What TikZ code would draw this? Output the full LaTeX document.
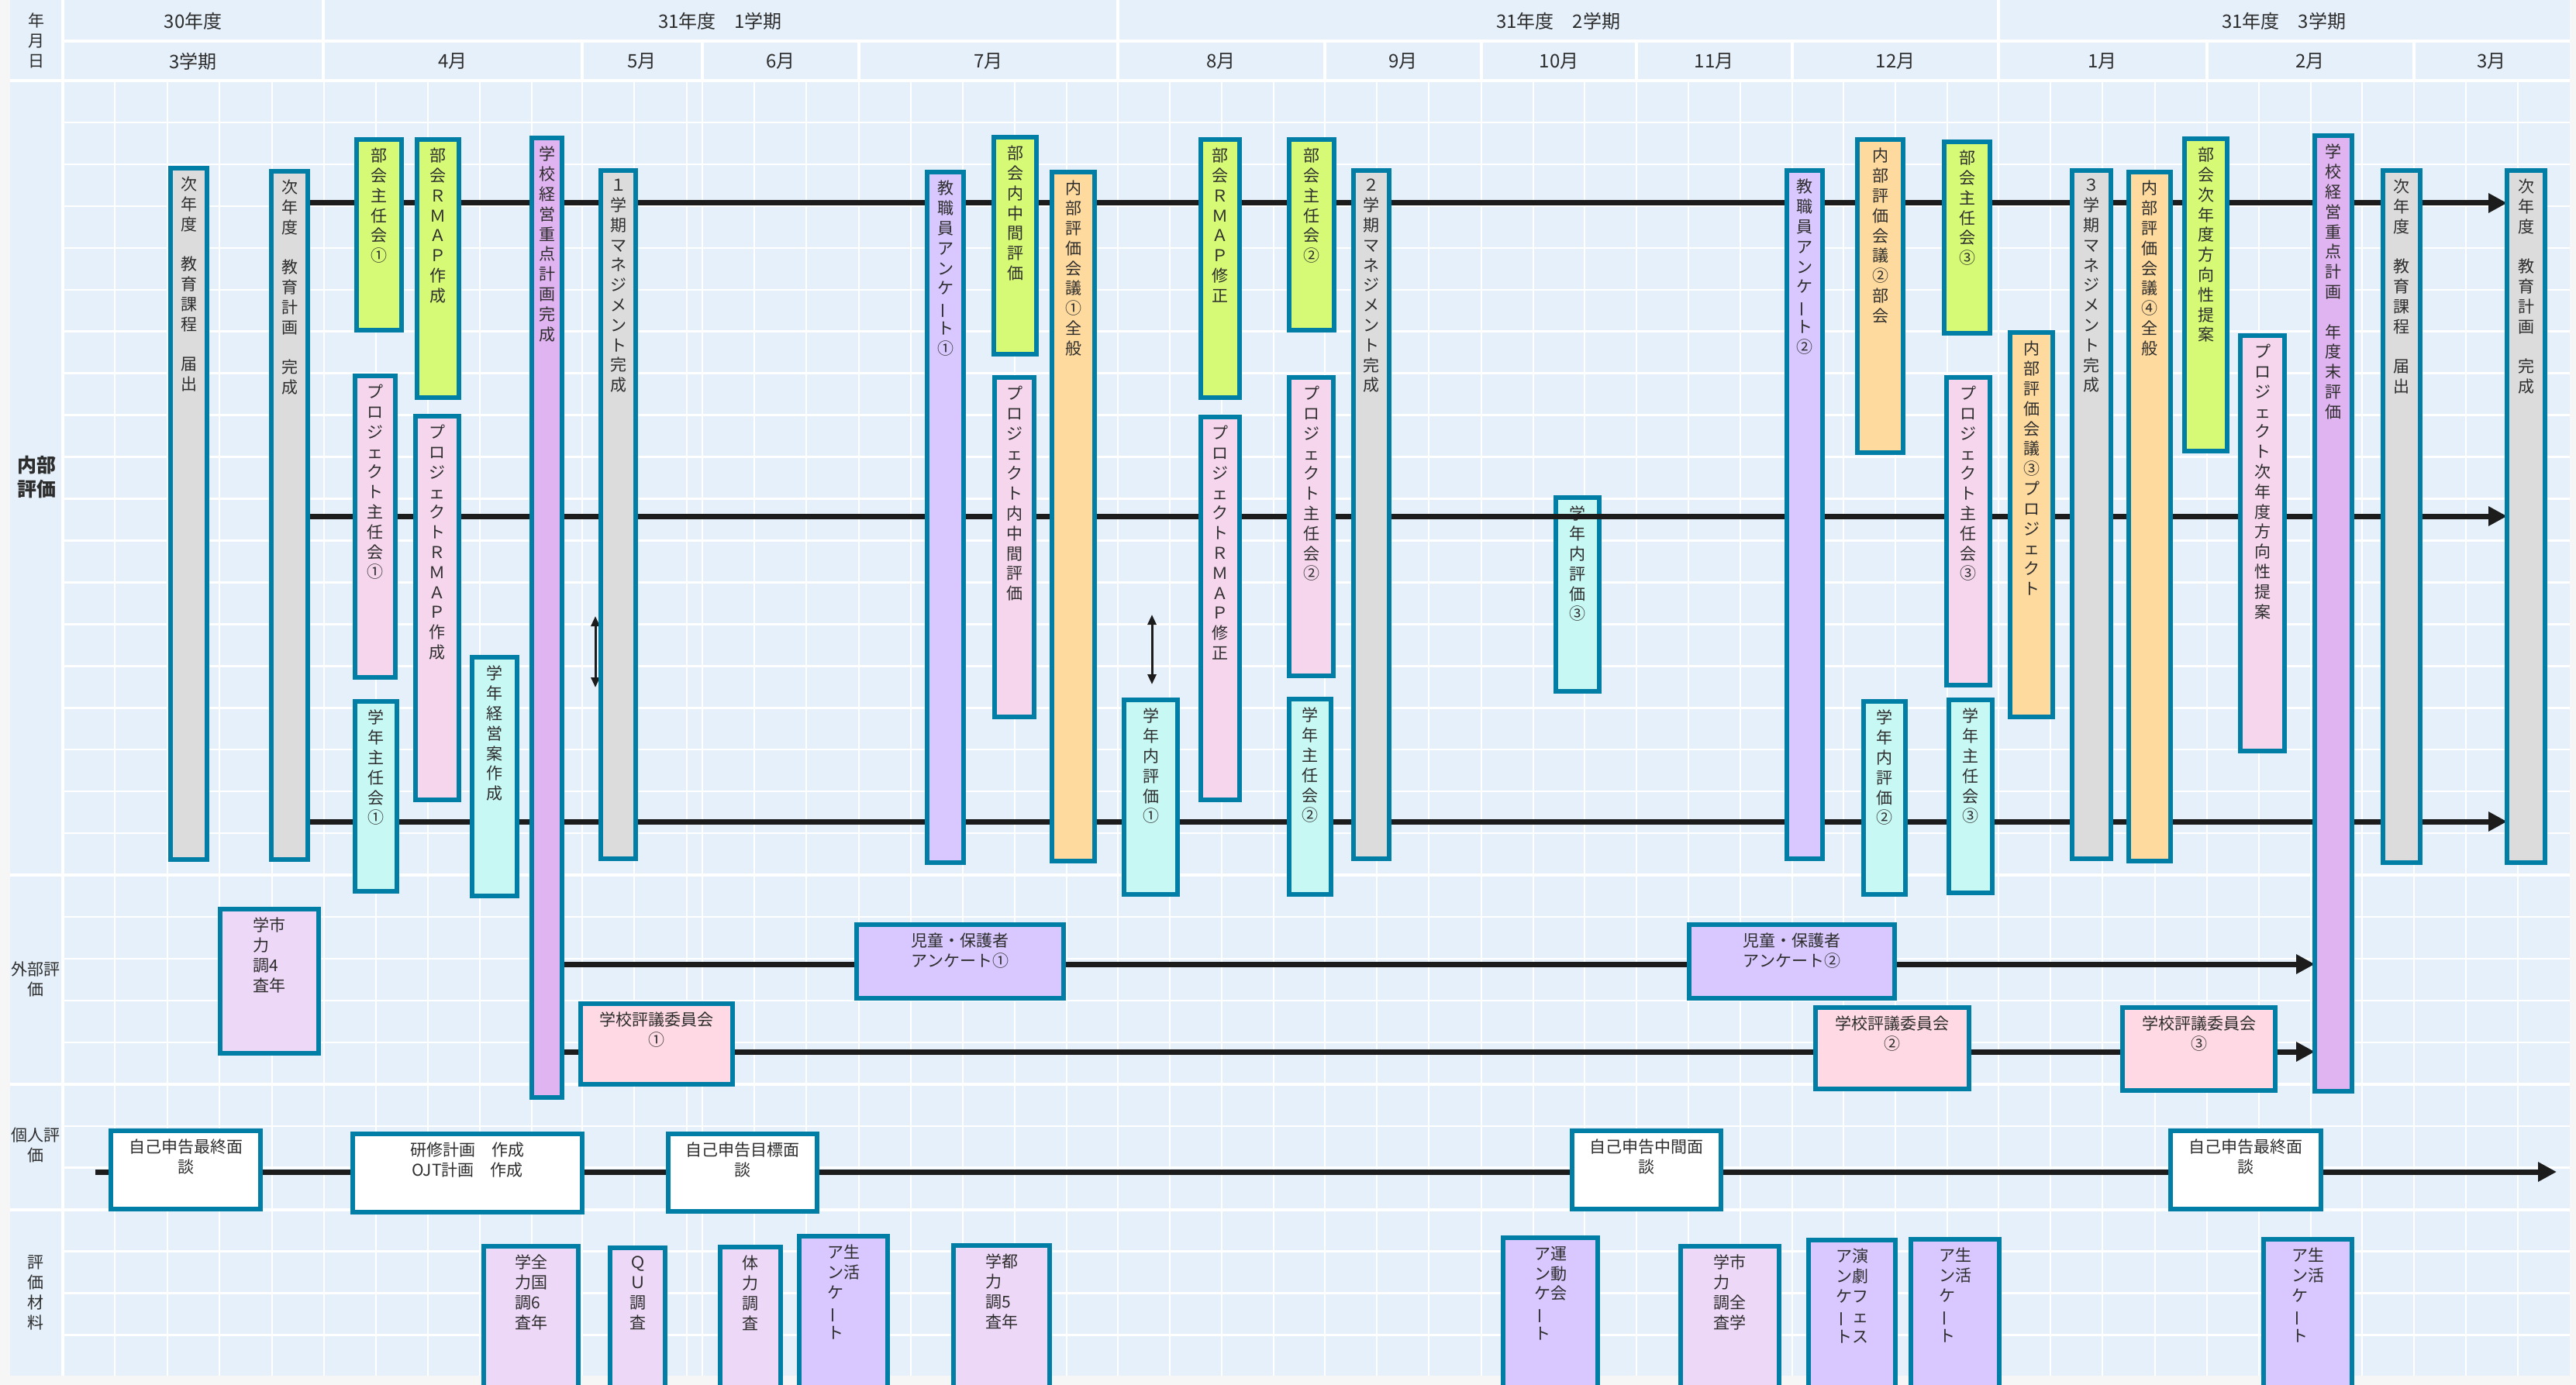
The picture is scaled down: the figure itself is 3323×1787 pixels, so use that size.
\documentclass[tikz,border=0pt]{standalone}
\usepackage{fontspec}
\usepackage{graphicx}
\setmainfont{Noto Sans CJK JP}
\usetikzlibrary{arrows.meta}
\pgfdeclarelayer{bg}
\pgfdeclarelayer{mid}
\pgfsetlayers{bg,mid,main}
\definecolor{outer}{RGB}{246,246,246}
\definecolor{panel}{RGB}{229,240,250}
\definecolor{bord}{RGB}{0,126,166}
\definecolor{cgray}{RGB}{220,220,220}
\definecolor{clime}{RGB}{214,250,118}
\definecolor{cpink}{RGB}{246,214,237}
\definecolor{ccyan}{RGB}{200,248,244}
\definecolor{clav}{RGB}{224,180,240}
\definecolor{cpur}{RGB}{216,200,255}
\definecolor{corg}{RGB}{255,218,158}
\definecolor{crose}{RGB}{255,218,228}
\definecolor{clil}{RGB}{237,216,247}
\definecolor{arr}{RGB}{28,28,28}
\definecolor{txtc}{RGB}{45,45,45}
\newcommand\fs{\fontsize{21}{25.8}\selectfont}
\newcommand\vbar{\rotatebox[origin=c]{90}{ー}}
\newcommand\vbcell{\makebox[1em]{\vbar}}
\def\vchStop{vchStop}
\def\vchars#1{\vchA#1\vchStop}
\def\vchA#1{\ifx#1\vchStop\else\mbox{#1}\par\expandafter\vchA\fi}
\tikzset{
  box/.style={draw=bord, line width=6pt, inner sep=0pt, outer sep=0pt, rectangle},
  vtxt/.style={inner sep=0pt, text width=30pt, align=center, font=\fs, text=txtc},
  htxt/.style={inner sep=0pt, align=center, font=\fs, text=txtc},
  ltxt/.style={inner sep=0pt, align=left, font=\fs, text=txtc},
  hdr/.style={inner sep=0pt, font=\fontsize{24}{28}\selectfont, text=txtc},
  lab/.style={inner sep=0pt, align=center, font=\fontsize{21}{26}\selectfont, text=txtc},
  gridl/.style={white, line width=2.5pt},
  majl/.style={white, line width=3.5pt},
  conn/.style={draw=arr, line width=7pt, -{Triangle[length=24pt,width=24pt]}},
  dbl/.style={draw=arr, line width=3pt, {Triangle[length=13pt,width=11pt]}-{Triangle[length=13pt,width=11pt]}}
}
\newcommand\bx[6]{\node[box, fill=#2, minimum width={#5-#3-6}, minimum height={#6-#4-6}] (#1) at ({(#3+#5)/2},{(#4+#6)/2}) {};}
\newcommand\vtx[2]{\node[vtxt, anchor=north] (#1t) at ([yshift=-11pt]#1.north) {\vchars{#2}};}
\newcommand\htx[2]{\node[htxt, anchor=north] (#1t) at ([yshift=-11pt]#1.north) {#2};}
\newcommand\ltx[2]{\node[ltxt, anchor=north] (#1t) at ([yshift=-11pt]#1.north) {#2};}
\begin{document}
\begin{tikzpicture}[x=1pt,y=-1pt]
\useasboundingbox (0,0) rectangle (3323,1787);
\clip (0,0) rectangle (3323,1787);
\begin{pgfonlayer}{bg}
\fill[outer] (0,0) rectangle (3323,1787);
\fill[panel] (13,0) rectangle (3315,1775);
\foreach \k in {1,...,30} { \draw[gridl] (81,{104+53.95*\k}) -- (3315,{104+53.95*\k}); }
\foreach \x in {148,216,283,351,418,485,552,619,686,751,818,886,906,973,1040,1108,1175,1242,1309,1376,1442,1509,1576,1643,1709,1776,1843,1911,1978,2044,2111,2178,2245,2312,2378,2445,2512,2578,2645,2712,2780,2847,2914,2981,3047,3114,3181,3248} { \draw[gridl] (\x,104) -- (\x,1775); }
\foreach \y in {104,1129,1399,1561} { \draw[majl] (13,\y) -- (3315,\y); }
\draw[majl] (81,0) -- (81,1775);
\draw[majl] (81,53) -- (3315,53);
\foreach \x in {417,1442,2578} { \draw[majl] (\x,0) -- (\x,53); }
\foreach \x in {417,751,906,1108,1442,1709,1911,2111,2312,2578,2847,3114} { \draw[majl] (\x,53) -- (\x,104); }
\bx{b24}{ccyan}{2004}{639}{2066}{895}
\vtx{b24}{学年内評価③}
\end{pgfonlayer}
% header
\node[lab] (ymd) at (47,52) {年\\月\\日};
\node[hdr] (y30) at (249,27) {30年度};
\node[hdr] (y31a) at (929,27) {31年度　1学期};
\node[hdr] (y31b) at (2010,27) {31年度　2学期};
\node[hdr] (y31c) at (2946,27) {31年度　3学期};
\node[hdr] (m03) at (249,79) {3学期};
\node[hdr] (m04) at (584,79) {4月};
\node[hdr] (m05) at (828,79) {5月};
\node[hdr] (m06) at (1007,79) {6月};
\node[hdr] (m07) at (1275,79) {7月};
\node[hdr] (m08) at (1575,79) {8月};
\node[hdr] (m09) at (1810,79) {9月};
\node[hdr] (m10) at (2011,79) {10月};
\node[hdr] (m11) at (2211,79) {11月};
\node[hdr] (m12) at (2445,79) {12月};
\node[hdr] (m01) at (2712,79) {1月};
\node[hdr] (m02) at (2980,79) {2月};
\node[hdr] (m3b) at (3214,79) {3月};
% section labels
\node[lab, font=\fontsize{25}{31}\selectfont\bfseries] (l1) at (47,615) {内部\\評価};
\node[lab] (l2) at (46,1263) {外部評\\価};
\node[lab] (l3) at (46,1478) {個人評\\価};
\node[lab] (l4) at (46,1668) {評\\価\\材\\料};
% internal evaluation boxes
\bx{b1}{cgray}{217}{214}{270}{1112}\vtx{b1}{次年度　教育課程　届出}
\bx{b2}{cgray}{347}{218}{400}{1112}\vtx{b2}{次年度　教育計画　完成}
\bx{b3}{clime}{457}{177}{521}{429}\vtx{b3}{部会主任会①}
\bx{b4}{clime}{535}{177}{595}{516}\vtx{b4}{部会ＲＭＡＰ作成}
\bx{b5}{cpink}{455}{482}{513}{877}\vtx{b5}{プロジェクト主任会①}
\bx{b6}{cpink}{533}{534}{595}{1035}\vtx{b6}{プロジェクトＲＭＡＰ作成}
\bx{b7}{ccyan}{455}{902}{515}{1153}\vtx{b7}{学年主任会①}
\bx{b8}{ccyan}{606}{845}{670}{1159}\vtx{b8}{学年経営案作成}
\bx{b9}{clav}{683}{175}{728}{1419}\vtx{b9}{学校経営重点計画完成}
\bx{b10}{cgray}{772}{217}{823}{1111}\vtx{b10}{１学期マネジメント完成}
\bx{b12}{cpur}{1193}{219}{1246}{1116}\vtx{b12}{教職員アンケ\vbar ト①}
\bx{b13}{clime}{1279}{174}{1340}{460}\vtx{b13}{部会内中間評価}
\bx{b14}{cpink}{1280}{484}{1337}{928}\vtx{b14}{プロジェクト内中間評価}
\bx{b15}{corg}{1354}{219}{1415}{1114}\vtx{b15}{内部評価会議①全般}
\bx{b17}{ccyan}{1447}{900}{1522}{1157}\vtx{b17}{学年内評価①}
\bx{b18}{clime}{1546}{177}{1602}{516}\vtx{b18}{部会ＲＭＡＰ修正}
\bx{b19}{cpink}{1546}{535}{1602}{1035}\vtx{b19}{プロジェクトＲＭＡＰ修正}
\bx{b20}{clime}{1660}{177}{1724}{429}\vtx{b20}{部会主任会②}
\bx{b21}{cpink}{1660}{484}{1723}{875}\vtx{b21}{プロジェクト主任会②}
\bx{b22}{ccyan}{1660}{899}{1720}{1157}\vtx{b22}{学年主任会②}
\bx{b23}{cgray}{1743}{217}{1795}{1111}\vtx{b23}{２学期マネジメント完成}
\bx{b25}{cpur}{2302}{217}{2354}{1111}\vtx{b25}{教職員アンケ\vbar ト②}
\bx{b26}{corg}{2393}{177}{2458}{587}\vtx{b26}{内部評価会議②部会}
\bx{b27}{ccyan}{2401}{902}{2461}{1157}\vtx{b27}{学年内評価②}
\bx{b28}{clime}{2505}{180}{2570}{433}\vtx{b28}{部会主任会③}
\bx{b29}{cpink}{2508}{484}{2570}{887}\vtx{b29}{プロジェクト主任会③}
\bx{b30}{ccyan}{2511}{900}{2573}{1155}\vtx{b30}{学年主任会③}
\bx{b31}{corg}{2590}{426}{2651}{928}\vtx{b31}{内部評価会議③プロジェクト}
\bx{b32}{cgray}{2670}{217}{2726}{1111}\vtx{b32}{３学期マネジメント完成}
\bx{b33}{corg}{2743}{219}{2803}{1114}\vtx{b33}{内部評価会議④全般}
\bx{b34}{clime}{2815}{176}{2876}{585}\vtx{b34}{部会次年度方向性提案}
\bx{b35}{cpink}{2887}{430}{2950}{972}\vtx{b35}{プロジェクト次年度方向性提案}
\bx{b36}{clav}{2983}{172}{3037}{1411}\vtx{b36}{学校経営重点計画　年度末評価}
\bx{b37}{cgray}{3071}{217}{3125}{1116}\vtx{b37}{次年度　教育課程　届出}
\bx{b38}{cgray}{3231}{217}{3286}{1116}\vtx{b38}{次年度　教育計画　完成}
% external evaluation
\bx{e1}{clil}{281}{1170}{414}{1362}\ltx{e1}{学市\\力\\調4\\査年}
\bx{e2}{cpur}{1102}{1190}{1375}{1291}\htx{e2}{児童・保護者\\アンケート①}
\bx{e3}{cpur}{2176}{1190}{2447}{1291}\htx{e3}{児童・保護者\\アンケート②}
\bx{e4}{crose}{746}{1292}{948}{1402}\htx{e4}{学校評議委員会\\①}
\bx{e5}{crose}{2339}{1297}{2543}{1408}\htx{e5}{学校評議委員会\\②}
\bx{e6}{crose}{2735}{1297}{2938}{1410}\htx{e6}{学校評議委員会\\③}
% personal evaluation
\bx{p1}{white}{140}{1456}{339}{1563}\htx{p1}{自己申告最終面\\談}
\bx{p2}{white}{452}{1460}{754}{1567}\htx{p2}{研修計画　作成\\OJT計画　作成}
\bx{p3}{white}{859}{1460}{1057}{1566}\htx{p3}{自己申告目標面\\談}
\bx{p4}{white}{2025}{1456}{2223}{1563}\htx{p4}{自己申告中間面\\談}
\bx{p5}{white}{2797}{1456}{2997}{1563}\htx{p5}{自己申告最終面\\談}
% materials
\bx{q1}{clil}{621}{1605}{749}{1830}\ltx{q1}{学全\\力国\\調6\\査年}
\bx{q2}{clil}{784}{1607}{861}{1830}\vtx{q2}{ＱＵ調査}
\bx{q3}{clil}{926}{1606}{1010}{1830}\vtx{q3}{体力調査}
\bx{q4}{cpur}{1028}{1592}{1148}{1830}\ltx{q4}{ア生\\ン活\\ケ\\\vbcell\\ト}
\bx{q5}{clil}{1227}{1604}{1357}{1830}\ltx{q5}{学都\\力\\調5\\査年}
\bx{q6}{cpur}{1936}{1594}{2064}{1830}\ltx{q6}{ア運\\ン動\\ケ会\\\vbcell\\ト}
\bx{q7}{clil}{2165}{1605}{2298}{1830}\ltx{q7}{学市\\力\\調全\\査学}
\bx{q8}{cpur}{2330}{1597}{2448}{1830}\ltx{q8}{ア演\\ン劇\\ケフ\\\vbcell ェ\\トス}
\bx{q9}{cpur}{2462}{1596}{2582}{1830}\ltx{q9}{ア生\\ン活\\ケ\\\vbcell\\ト}
\bx{q10}{cpur}{2917}{1596}{3037}{1830}\ltx{q10}{ア生\\ン活\\ケ\\\vbcell\\ト}
% connectors
\coordinate (r1) at (0,262);
\coordinate (r2) at (0,666);
\coordinate (r3) at (0,1060);
\coordinate (x1) at (0,1244);
\coordinate (x2) at (0,1357);
\coordinate (pa) at (123,1512);
\coordinate (pb) at (3298,1512);
\coordinate (d1a) at (768,795);
\coordinate (d1b) at (768,887);
\coordinate (d2a) at (1486,793);
\coordinate (d2b) at (1486,883);
\begin{pgfonlayer}{mid}
\draw[conn] (b2.east |- r1) -- (b38.west |- r1);
\draw[conn] (b2.east |- r2) -- (b38.west |- r2);
\draw[conn] (b2.east |- r3) -- (b38.west |- r3);
\draw[conn] (b9.east |- x1) -- (b36.west |- x1);
\draw[conn] (b9.east |- x2) -- (b36.west |- x2);
\draw[conn] (pa) -- (pb);
\draw[dbl] (d1a) -- (d1b);
\draw[dbl] (d2a) -- (d2b);
\end{pgfonlayer}
\end{tikzpicture}
\end{document}
